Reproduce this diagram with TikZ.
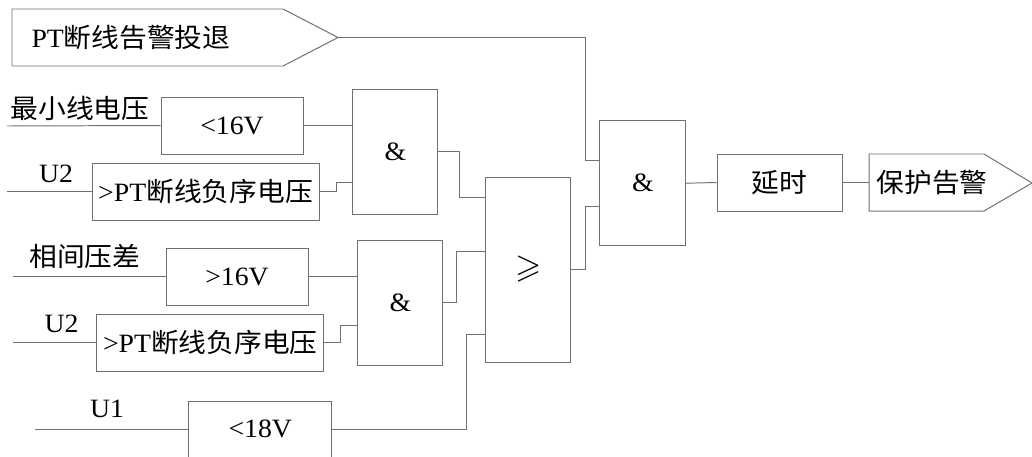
\documentclass[tikz,border=0pt]{standalone}
\usepackage{amssymb}
\usepackage{fontspec}
\setmainfont[FakeStretch=1.05]{Liberation Serif}
\newfontfamily\cjk[FakeStretch=1.05]{Noto Sans CJK SC}
\definecolor{linegray}{RGB}{112,112,112}
\tikzset{
  gate/.style 2 args={draw=linegray, line width=0.7pt, inner sep=0pt,
    minimum width=#1*0.025cm, minimum height=#2*0.025cm},
  wire/.style={draw=linegray, line width=0.7pt},
  lbl/.style={inner sep=0pt},
}
\begin{document}
\begin{tikzpicture}[x=0.025cm, y=-0.025cm, font=\fontsize{18.8pt}{22pt}\selectfont]
\useasboundingbox (0,0) rectangle (1032,456);
\clip (0,0) rectangle (1032,456);

% input pentagon
\draw[wire] (12,9) -- (283,9) -- (338,37.5) -- (283,66) -- (12,66) -- cycle;
\node[lbl] (ptlbl) at (131,38) {PT\cjk 断线告警投退};
\coordinate (pttip) at (338,37.5);

% input labels
\node[lbl] (minv) at (80,108) {\cjk 最小线电压};
\node[lbl] (u2a) at (56,174) {U2};
\node[lbl] (xjyc) at (85,256) {\cjk 相间压差};
\node[lbl] (u2b) at (61.5,324) {U2};
\node[lbl] (u1) at (107,409) {U1};
\coordinate (minvin) at (7,126);
\coordinate (u2ain) at (7,191.5);
\coordinate (xjycin) at (13,276.5);
\coordinate (u2bin) at (13,342.5);
\coordinate (u1in) at (35,429);

% blocks
\node[gate={142}{57}] (lt16) at (232,125.5) {<16V};
\node[gate={227}{57}] (ptv1) at (205.5,191.5) {>PT\cjk 断线负序电压};
\node[gate={84.7}{125}] (and1) at (395.3,151.5) {\&};
\node[gate={142}{57}] (gt16) at (237,276.5) {>16V};
\node[gate={227.3}{57}] (ptv2) at (210.3,342.5) {>PT\cjk 断线负序电压};
\node[gate={85.3}{125}] (and2) at (400.3,302.5) {\&};
\node[gate={142.7}{56}] (lt18) at (260.3,429) {<18V};
\node[gate={85.3}{185}] (or) at (528.3,269.5) {\fontsize{24pt}{28pt}\selectfont$\geqslant$};
\node[gate={85.7}{125}] (and3) at (642.8,183.2) {\&};
\node[gate={125}{57}] (delay) at (779.5,182.5) {\cjk 延时};

% output pentagon
\draw[wire] (869,154) -- (984,154) -- (1032,183) -- (984,211) -- (869,211) -- cycle;
\node[lbl] (alarm) at (932,183) {\cjk 保护告警};
\coordinate (alarmin) at (869,182.5);

% wires
\draw[wire] (minvin) -- (lt16.west);
\draw[wire] (lt16.east) -- (lt16.east -| and1.west);
\draw[wire] (u2ain) -- (ptv1.west);
\draw[wire] (ptv1.east) -| (336,182.7) -- (and1.west |- 336,182.7);
\draw[wire] (and1.east) -| (459,197) -- (or.west |- 459,197);
\draw[wire] (xjycin) -- (gt16.west);
\draw[wire] (gt16.east) -- (gt16.east -| and2.west);
\draw[wire] (u2bin) -- (ptv2.west);
\draw[wire] (ptv2.east) -| (340,325) -- (and2.west |- 340,325);
\draw[wire] (and2.east) -| (456,251) -- (or.west |- 456,251);
\draw[wire] (u1in) -- (lt18.west);
\draw[wire] (lt18.east) -| (466,334) -- (or.west |- 466,334);
\draw[wire] (or.east) -| (585,206) -- (and3.west |- 585,206);
\draw[wire] (pttip) -| (585,160.7) -- (and3.west |- 585,160.7);
\draw[wire] (and3.east) -- (delay.west);
\draw[wire] (delay.east) -- (alarmin);

\end{tikzpicture}
\end{document}
